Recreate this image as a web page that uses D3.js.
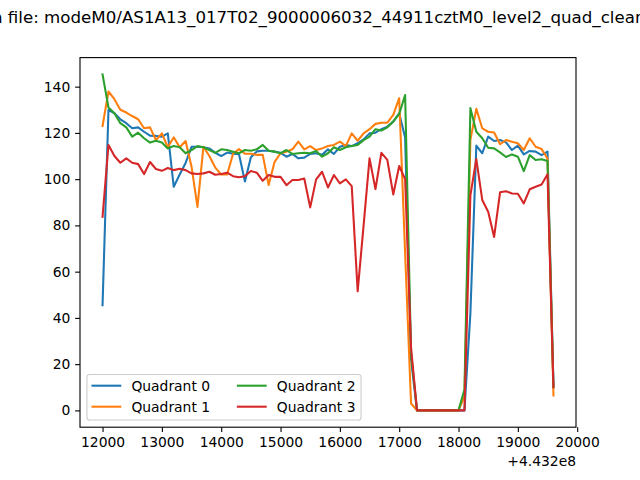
<!DOCTYPE html>
<html><head><meta charset="utf-8">
<script src="https://cdn.jsdelivr.net/npm/d3@7"></script>
<style>
body{margin:0;background:#fff;}
svg{display:block;font-family:"DejaVu Sans",sans-serif;}
</style>
</head><body>
<svg id="chart" width="640" height="480"></svg>
<script>
// ---------- data ----------
const titlePrefix = "Lightcurve i";
const titleVisible = "n file: modeM0/AS1A13_017T02_9000006032_44911cztM0_level2_quad_clean";
const titleSuffix = ".evt";
const offsetLabel = "+4.432e8";
const seriesNames = ["Quadrant 0", "Quadrant 1", "Quadrant 2", "Quadrant 3"];

// time (s) relative to 4.432e8
const timeOffsets = [
  12000,12100,12200,12300,12400,12500,12600,12700,12800,12900,
  13000,13100,13200,13300,13400,13500,13600,13700,13800,13900,
  14000,14100,14200,14300,14400,14500,14600,14700,14800,14900,
  15000,15100,15200,15300,15400,15500,15600,15700,15800,15900,
  16000,16100,16200,16300,16400,16500,16600,16700,16800,16900,
  17000,17100,17200,17300,17400,17500,17600,17700,17800,17900,
  18000,18100,18200,18300,18400,18500,18600,18700,18800,18900,
  19000,19100,19200,19300,19400,19500,19600
];

const quadrant0 = [
  45.5,130,128.5,125.9,124.2,122,122.4,120.5,118.8,118.7,
  118.4,119.8,96.7,102,107,114,114,113.8,113.3,111.4,
  110,111.5,111,110.8,99,109.5,112,112.3,112.3,111.9,
  111.4,109.7,110.9,109,109.3,110.9,111.2,110.5,112.9,110.9,
  114,114.8,114.3,115.5,117.2,119.8,120.1,121.6,122.7,124.9,
  128.5,118,22,0,0,0,0,0,0,0,
  0,0,42,114.5,111.2,118.4,116.5,116.9,115.9,112.6,
  114.5,110.7,112.2,111.9,110.4,111.9,11
];
const quadrant1 = [
  123,137.9,134.6,130,128.8,127.3,125.9,122,122.4,116.9,
  119.8,113.8,118.1,113.8,116.5,105.4,88,114,110,105,
  102,102,111,113,111,111,110.5,110.5,97.5,107.5,
  111.2,111.9,112.9,116.2,112.9,114.3,112.6,113.3,114.3,114.8,
  116.2,114.3,119.8,116.6,119.8,121.6,123.9,124.4,124.4,127.8,
  135,68,3,0,0,0,0,0,0,0,
  0,6,117,130.4,122,120.5,120.2,115.1,116.9,116.2,
  115.5,112.6,117.7,114,113,109,6.5
];
const quadrant2 = [
  145.3,131,128.5,124.2,122.4,118.4,120.1,117.7,115.8,116.6,
  115.8,113.3,114.3,113.8,111.2,112.6,114.3,113.8,112.6,111.4,
  112.9,112.6,111.9,111.2,112.6,112.3,112.9,114.8,112.3,111.9,
  111.2,112.6,110.9,111.2,111.4,111.2,112.2,109.7,111.2,113.8,
  112.6,113.8,114.3,114.8,116.9,118.4,121.6,121,122.4,124.9,
  128.2,136.4,25,0,0,0,0,0,0,0,
  0,9,130.7,120.5,117.7,113.6,113.3,111.6,109.6,110.7,
  109.7,103.5,110.4,108.3,108.6,107.8,10
];
const quadrant3 = [
  83.7,114.8,110,107.1,109,107.1,106.5,102.2,107.4,104.4,
  103.6,104.8,103.9,104.5,103.9,102.5,102.2,102.5,103.2,101.9,
  102.2,102.8,101.3,100.8,101.3,103.5,102.8,99.3,101.8,101,
  101,97.4,99.6,99.6,100.3,87.8,99.9,103.2,96.4,101.8,
  98.2,99.9,97,51.5,80,109,95.7,111.4,108.3,93.4,
  105.7,100,27,0,0,0,0,0,0,0,
  0,0,93,108.7,91,85.9,75,94.3,94.8,93.8,
  93.7,89.5,95.6,96.7,97.7,102.1,10
];

const xTickValues = [12000,13000,14000,15000,16000,17000,18000,19000,20000];
const yTickValues = [0,20,40,60,80,100,120,140];
const colors = ["#1f77b4","#ff7f0e","#2ca02c","#d62728"];

// ---------- layout ----------
const L = 80, R = 576, T = 57.6, B = 427.2;
const FS = 13.89;
const svg = d3.select("#chart");
svg.append("rect").attr("width",640).attr("height",480).attr("fill","#fff");

const series = [quadrant0, quadrant1, quadrant2, quadrant3];

const tExt = d3.extent(timeOffsets);
const tPad = 0.05 * (tExt[1] - tExt[0]);
const x = d3.scaleLinear().domain([tExt[0] - tPad, tExt[1] + tPad]).range([L, R]);

const allVals = series.flat();
const vExt = d3.extent(allVals);
const vPad = 0.05 * (vExt[1] - vExt[0]);
const y = d3.scaleLinear().domain([vExt[0] - vPad, vExt[1] + vPad]).range([B, T]);

// clip
svg.append("defs").append("clipPath").attr("id","clip")
  .append("rect").attr("x",L).attr("y",T).attr("width",R-L).attr("height",B-T);

// lines
const line = d3.line().x((d,i) => x(timeOffsets[i])).y(d => y(d));
const g = svg.append("g").attr("clip-path","url(#clip)");
series.forEach((s, k) => {
  g.append("path").datum(s)
    .attr("d", line)
    .attr("fill","none")
    .attr("stroke", colors[k])
    .attr("stroke-width", 2.08)
    .attr("stroke-linejoin","round")
    .attr("stroke-linecap","square");
});

// axes
const xAxis = d3.axisBottom(x).tickValues(xTickValues).tickFormat(d3.format("d"))
  .tickSize(4.86).tickPadding(4.86);
const yAxis = d3.axisLeft(y).tickValues(yTickValues).tickFormat(d3.format("d"))
  .tickSize(4.86).tickPadding(4.86);

const gx = svg.append("g").attr("transform",`translate(0,${B})`).call(xAxis);
const gy = svg.append("g").attr("transform",`translate(${L},0)`).call(yAxis);
[gx, gy].forEach(ga => {
  ga.select(".domain").remove();
  ga.selectAll(".tick line").attr("stroke","#000").attr("stroke-width",1.11);
  ga.selectAll(".tick text").attr("fill","#000")
    .style("font-family","DejaVu Sans").style("font-size", FS + "px");
});

// spines
svg.append("rect").attr("x",L).attr("y",T).attr("width",R-L).attr("height",B-T)
  .attr("fill","none").attr("stroke","#000").attr("stroke-width",1.11);

// offset text
svg.append("text").attr("x", R).attr("y", 466).attr("text-anchor","end")
  .style("font-size", FS + "px").attr("fill","#000").text(offsetLabel);

// legend
const lgLeft = L + 0.5*FS, lgTop = 374.5, lgH = 45.5;
const handleLen = 2*FS, handlePad = 0.8*FS, colSpace = 2*FS, borderPad = 0.4*FS;
const lg = svg.append("g");
const frame = lg.append("rect").attr("x", lgLeft).attr("y", lgTop).attr("height", lgH)
  .attr("rx", 2.8).attr("ry", 2.8)
  .attr("fill","#fff").attr("fill-opacity",0.8).attr("stroke","#cccccc").attr("stroke-width",1.1);
const rowY = [385.7, 406.7];
let colX = lgLeft + borderPad;
let maxRight = colX;
for (let c = 0; c < 2; c++) {
  let colW = 0;
  for (let r = 0; r < 2; r++) {
    const k = c*2 + r;
    lg.append("line").attr("x1", colX).attr("x2", colX + handleLen)
      .attr("y1", rowY[r]).attr("y2", rowY[r])
      .attr("stroke", colors[k]).attr("stroke-width", 2.08).attr("stroke-linecap","square");
    const t = lg.append("text").attr("x", colX + handleLen + handlePad).attr("y", rowY[r] + 5)
      .style("font-size", FS + "px").attr("fill","#000").text(seriesNames[k]);
    colW = Math.max(colW, t.node().getComputedTextLength());
  }
  const right = colX + handleLen + handlePad + colW;
  maxRight = right;
  colX = right + colSpace;
}
frame.attr("width", maxRight + borderPad - lgLeft);

// title (figure title, wider than the figure; only the middle is visible)
const title = svg.append("text").attr("y", 22.5).attr("text-anchor","start")
  .style("font-size","16.67px").attr("fill","#000")
  .text(titlePrefix + titleVisible + titleSuffix);
const prefW = title.node().getSubStringLength(0, titlePrefix.length);
title.attr("x", -8 - prefW);
</script>
</body></html>
